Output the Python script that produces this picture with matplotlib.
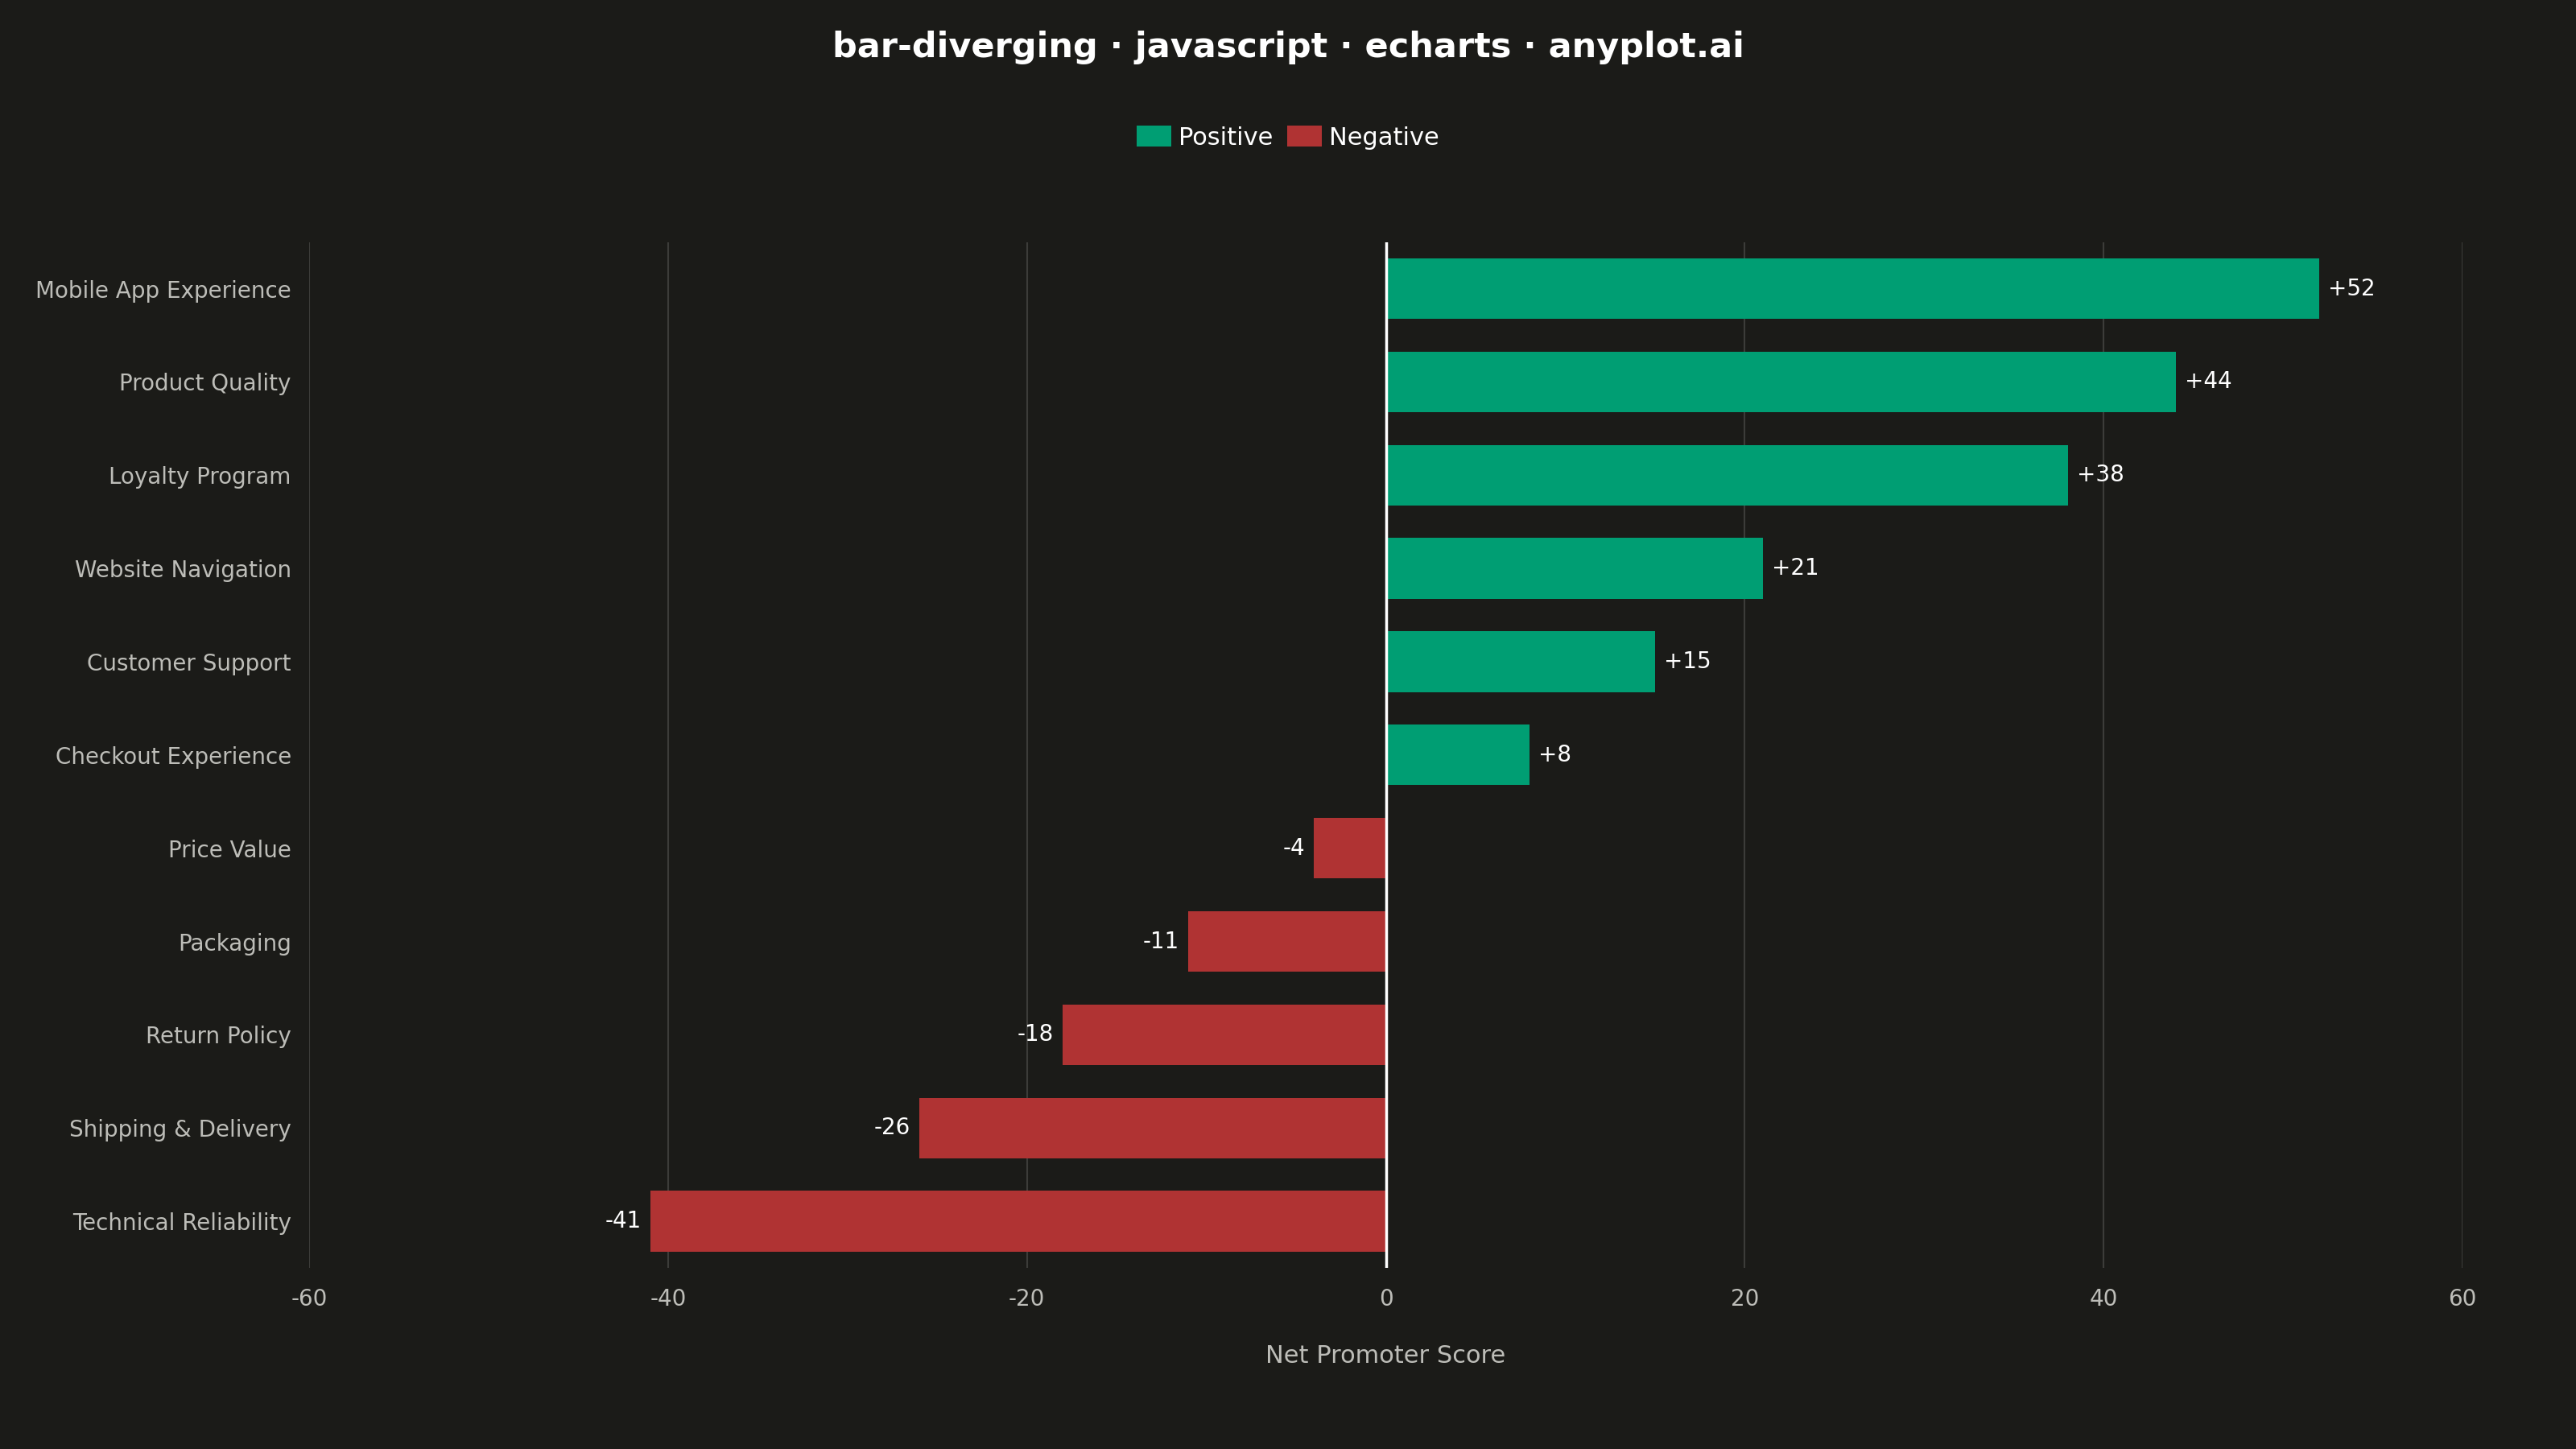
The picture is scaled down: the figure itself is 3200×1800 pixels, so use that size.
import matplotlib
matplotlib.use("Agg")
import matplotlib.pyplot as plt
from matplotlib.patches import Patch

categories = ["Mobile App Experience", "Product Quality", "Loyalty Program", "Website Navigation",
              "Customer Support", "Checkout Experience", "Price Value", "Packaging",
              "Return Policy", "Shipping & Delivery", "Technical Reliability"]
scores = [52, 44, 38, 21, 15, 8, -4, -11, -18, -26, -41]
xticks = [-60, -40, -20, 0, 20, 40, 60]

BG = "#1b1b18"
POS = "#009e73"
NEG = "#b03333"
TXT = "#bdbdb8"

fig = plt.figure(figsize=(32, 18), dpi=100, facecolor=BG)
ax = fig.add_axes([0.12, 0.125, 0.836, 0.708], facecolor=BG)

n = len(categories)
ys = list(range(n))
colors = [POS if v >= 0 else NEG for v in scores]
ax.barh(ys, scores, height=0.65, color=colors, zorder=3)
for y, v in zip(ys, scores):
    lab = f"+{v}" if v > 0 else f"{v}"
    ax.text(v + (0.5 if v >= 0 else -0.5), y, lab, ha="left" if v >= 0 else "right",
            va="center", color="white", fontsize=20, zorder=4)

ax.set_ylim(n - 0.5, -0.5)
ax.set_xlim(-60, 60)
ax.set_xticks(xticks)
ax.set_xticklabels([str(t) for t in xticks])
ax.set_yticks(ys)
ax.set_yticklabels(categories)
ax.tick_params(axis="both", colors=TXT, labelsize=20, length=0)
ax.tick_params(axis="x", pad=18)
ax.tick_params(axis="y", pad=16)
for s in ax.spines.values():
    s.set_visible(False)
ax.grid(axis="x", color="#3c3c39", linewidth=1.5, zorder=0)
ax.axvline(0, color="white", linewidth=2.5, zorder=5)
ax.set_xlabel("Net Promoter Score", color=TXT, fontsize=22, labelpad=30)

fig.text(0.5, 0.967, "bar-diverging · javascript · echarts · anyplot.ai", ha="center", va="center",
         color="white", fontsize=31, fontweight="bold")
handles = [Patch(facecolor=POS, label="Positive"), Patch(facecolor=NEG, label="Negative")]
fig.legend(handles=handles, loc="center", bbox_to_anchor=(0.5, 0.905), ncol=2, frameon=False,
           fontsize=22, labelcolor="white", handlelength=1.4, handleheight=0.9,
           columnspacing=0.6, handletextpad=0.3)

fig.savefig("out.png", facecolor=BG)
